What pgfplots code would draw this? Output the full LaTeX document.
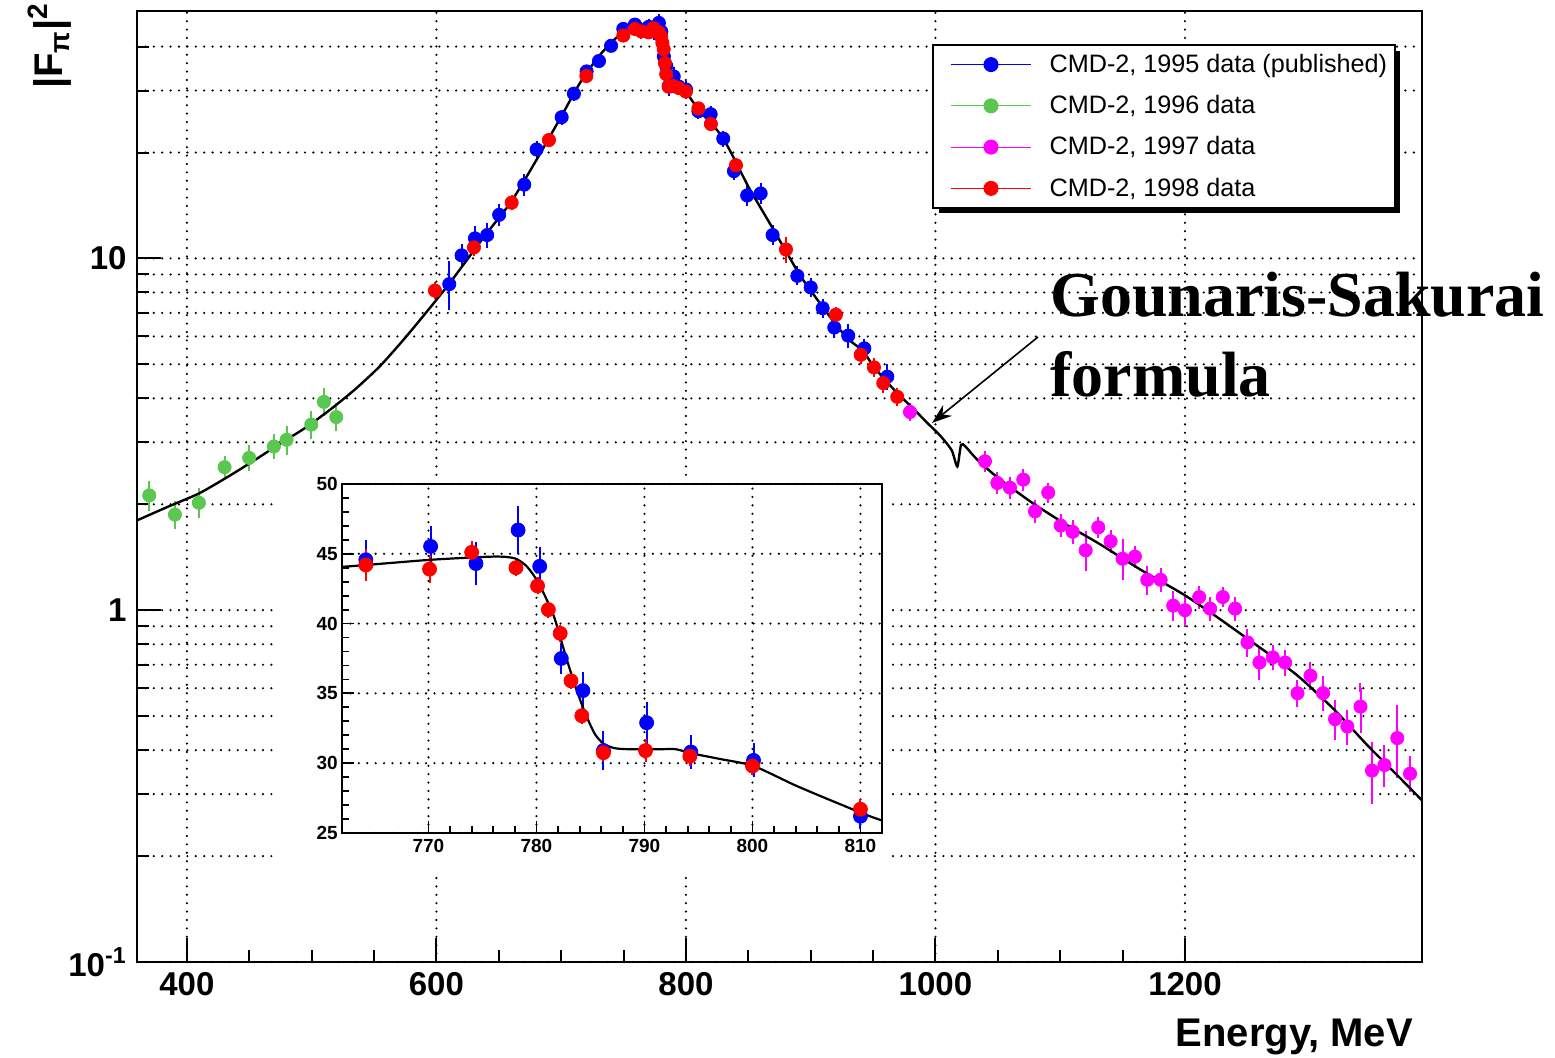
\documentclass[border=0pt]{standalone}
\usepackage{fontspec}
\setmainfont{Liberation Sans}
\newfontfamily\gsfont{Liberation Serif}
\usepackage{pgfplots}
\usepackage{pgfplotstable}
\pgfplotsset{compat=1.18}
\usetikzlibrary{arrows.meta}

\definecolor{cblue}{RGB}{0,0,255}
\definecolor{cgreen}{RGB}{90,200,80}
\definecolor{cmag}{RGB}{255,0,255}
\definecolor{cred}{RGB}{255,0,0}

\pgfplotstableread{
x y e
369.8 2.12 0.15
390.4 1.87 0.12
409.6 2.02 0.14
430.2 2.55 0.12
449.9 2.71 0.15
469.7 2.92 0.16
479.9 3.05 0.20
499.7 3.37 0.22
509.8 3.91 0.25
519.7 3.54 0.22
}\greendata

\pgfplotstableread{
x y e
610.3 8.45 1.1
620.2 10.2 0.5
630.9 11.4 0.6
640.7 11.65 0.6
650.3 13.3 0.6
670.4 16.2 0.7
680.3 20.4 0.5
700.4 25.2 0.5
710.2 29.4 0.5
720.4 34.0 0.5
730.3 36.4 0.5
740.0 40.2 0.5
749.8 44.9 0.6
759.1 46.2 0.6
764.2 44.57 1.1
770.2 45.53 1.15
774.4 44.3 1.25
778.3 46.7 1.4
780.3 44.1 1.1
782.3 37.5 0.8
784.3 35.2 1.0
786.2 30.9 1.1
790.2 32.9 1.2
794.3 30.8 0.9
800.1 30.2 0.9
810.0 26.2 0.6
819.8 25.7 0.6
829.9 21.9 0.5
838.5 17.7 0.5
849.1 15.1 0.6
859.9 15.3 0.6
869.5 11.65 0.4
889.3 8.92 0.3
900.0 8.27 0.3
909.6 7.22 0.25
918.9 6.36 0.25
930.1 6.03 0.3
943.0 5.55 0.2
961.4 4.61 0.25
}\bluedata

\pgfplotstableread{
x y e
598.8 8.1 0.2
630.1 10.75 0.3
660.3 14.4 0.3
690.2 21.7 0.4
720.2 33.0 0.4
749.8 43.0 0.4
759.1 44.9 0.4
764.2 44.2 0.8
770.1 43.9 0.7
774.0 45.1 0.5
778.1 44.0 0.3
780.1 42.7 0.3
781.1 41.0 0.3
782.2 39.3 0.3
783.2 35.9 0.3
784.2 33.4 0.3
786.2 30.75 0.3
790.1 30.9 0.5
794.2 30.5 0.4
800.0 29.8 0.3
810.0 26.7 0.4
820.0 24.1 0.3
840.1 18.4 0.3
880.2 10.6 0.6
920.2 6.92 0.15
940.1 5.32 0.15
950.7 4.90 0.15
958.2 4.42 0.15
969.4 4.04 0.12
}\reddata

\pgfplotstableread{
x y e
979.6 3.66 0.12
1039.7 2.65 0.10
1049.6 2.30 0.10
1059.7 2.23 0.10
1070.4 2.35 0.10
1079.8 1.91 0.09
1090.4 2.16 0.08
1100.4 1.74 0.08
1110.0 1.67 0.08
1120.4 1.48 0.15
1130.5 1.72 0.07
1140.4 1.57 0.07
1150.0 1.40 0.15
1159.9 1.42 0.06
1169.8 1.22 0.08
1180.5 1.22 0.06
1190.6 1.03 0.07
1200.0 1.00 0.07
1211.4 1.09 0.05
1220.2 1.01 0.05
1230.3 1.09 0.04
1240.2 1.01 0.05
1250.1 0.81 0.05
1259.7 0.71 0.06
1270.4 0.734 0.04
1280.3 0.71 0.04
1290.2 0.581 0.035
1300.6 0.651 0.04
1310.7 0.581 0.05
1320.3 0.490 0.05
1330.2 0.467 0.04
1340.7 0.532 0.07
1349.9 0.350 0.06
1359.9 0.363 0.04
1370.2 0.433 0.09
1380.4 0.343 0.03
}\magdata

\pgfplotstableread{
x y
360 1.80
385 1.97
410 2.15
435 2.42
455 2.68
475 2.98
495 3.30
515 3.72
535 4.25
555 4.95
575 5.95
595 7.25
610 8.45
624 9.85
640 11.75
660 14.5
680 19.0
700 25.3
715 31.5
730 37.5
744 42.3
752 43.5
757 43.9
762.1 44.07
770.2 44.57
776.1 44.8
778 44.67
779.1 44.1
780.2 42.9
781.6 40.55
782.7 37.7
783.6 35.5
784.5 33.6
785.4 32.1
786.2 31.4
787.2 31.08
788.5 31.0
791.4 31.0
792.9 31.0
794.4 30.7
797 30.3
800.1 29.8
804 28.4
808 27.1
812 25.9
820 24.3
830 21.9
840 18.8
850 16.0
860 13.9
870 12.1
880 10.5
891 9.0
900 8.1
910 7.25
920 6.5
930 5.9
942 5.45
950 4.95
960 4.5
970 4.12
982 3.75
993 3.42
1003.6 3.14
1013 2.85
1017.5 2.56
1020.5 2.95
1024 2.92
1033 2.69
1050 2.38
1078.4 2.01
1105 1.75
1131.9 1.54
1165 1.30
1198.6 1.11
1225 0.96
1252.1 0.82
1272 0.73
1292.2 0.643
1320 0.52
1345.7 0.415
1370 0.34
1390 0.288
}\curvedata

\pgfplotsset{
  dat/.style 2 args={only marks, mark=*, mark size=#2, color=#1, forget plot,
    error bars/.cd, y dir=both, y explicit,
    error bar style={line width=1pt,#1},
    error mark options={line width=1pt, mark size=2.2pt, #1}},
  dotgrid/.style={black, line width=1.2pt, dash pattern=on 0pt off 4.2pt, line cap=round},
}

\begin{document}
\begin{tikzpicture}
\path[use as bounding box] (-68.5pt,-48pt) rectangle (709pt,481pt);
% legend shadow
\fill[black] (401pt,374.5pt) rectangle (631.5pt,455.5pt);
\begin{axis}[
  at={(0pt,0pt)}, anchor=south west,
  scale only axis, width=642.5pt, height=475.5pt,
  xmin=360, xmax=1390, ymode=log, ymin=0.1, ymax=50.5,
  xtick={400,600,800,1000,1200}, xticklabels={400,600,800,1000,1200},
  minor x tick num=3,
  ytick={0.1,1,10}, yticklabels={10\textsuperscript{-1},1,10},
  minor ytick={0.2,0.3,0.4,0.5,0.6,0.7,0.8,0.9,2,3,4,5,6,7,8,9,20,30,40},
  xmajorgrids, ymajorgrids, yminorgrids,
  grid style={dotgrid}, minor grid style={dotgrid}, major grid style={dotgrid},
  tick pos=left, tick align=inside,
  major tick length=12pt, minor tick length=6pt,
  tick style={black, line width=1pt},
  axis line style={line width=1pt},
  tick label style={font=\bfseries\fontsize{16.5}{16.5}\selectfont},
  xticklabel style={anchor=north, inner sep=0pt, yshift=-5pt},
  yticklabel style={anchor=east, inner sep=0pt, xshift=-5pt},
  legend image code/.code={\path (-4.5pt,0pt); \draw[#1, line width=0.6pt] (0pt,0pt) -- (40pt,0pt); \fill[#1] (20pt,0pt) circle (3.25pt);},
  legend cell align=left,
  legend style={at={(0.6187,0.9653)}, anchor=north west, draw=black, line width=1pt, fill=white,
    inner xsep=4pt, inner ysep=2.5pt, row sep=6pt,
    nodes={inner xsep=0pt},
    font=\fontsize{12.6}{15}\selectfont,
    /tikz/every odd column/.append style={column sep=9pt}},
]
\addplot[dat={cgreen}{3.3pt}] table[x=x,y=y,y error=e] {\greendata};
\addplot[dat={cmag}{3.3pt}] table[x=x,y=y,y error=e] {\magdata};
\addplot[dat={cblue}{3.3pt}] table[x=x,y=y,y error=e] {\bluedata};
\addplot[dat={cred}{3.3pt}] table[x=x,y=y,y error=e] {\reddata};
\addplot[black, line width=1.2pt, smooth, tension=0.4, forget plot] table[x=x,y=y] {\curvedata};
\addlegendimage{cblue}
\addlegendentry{CMD-2, 1995 data (published)}
\addlegendimage{cgreen}
\addlegendentry{CMD-2, 1996 data}
\addlegendimage{cmag}
\addlegendentry{CMD-2, 1997 data}
\addlegendimage{cred}
\addlegendentry{CMD-2, 1998 data}
\end{axis}

\fill[white] (70pt,43.5pt) rectangle (377.5pt,242pt);

\begin{axis}[
  at={(102.5pt,64.5pt)}, anchor=south west,
  scale only axis, width=270pt, height=174.5pt,
  xmin=762, xmax=812, ymin=25, ymax=50,
  xtick={770,780,790,800,810}, xticklabels={770,780,790,800,810},
  ytick={25,30,35,40,45,50}, yticklabels={25,30,35,40,45,50},
  minor x tick num=4, minor y tick num=4,
  xmajorgrids, ymajorgrids,
  grid style={dotgrid}, major grid style={dotgrid},
  tick pos=left, tick align=inside,
  major tick length=6pt, minor tick length=3.5pt,
  tick style={black, line width=0.9pt},
  axis line style={line width=1pt},
  tick label style={font=\bfseries\fontsize{9.5}{9.5}\selectfont},
  xticklabel style={anchor=north, inner sep=0pt, yshift=-3pt},
  yticklabel style={anchor=east, inner sep=0pt, xshift=-2pt},
]
\addplot[dat={cblue}{3.5pt}] table[x=x,y=y,y error=e] {\bluedata};
\addplot[dat={cred}{3.5pt}] table[x=x,y=y,y error=e] {\reddata};
\addplot[black, line width=1.1pt, smooth, tension=0.4] table[x=x,y=y] {\curvedata};
\end{axis}

\node[rotate=90, anchor=base, font=\bfseries\fontsize{20}{20}\selectfont] at (-37pt,458pt) {|F\textsubscript{π}|\textsuperscript{2}};
\node[anchor=base east, font=\bfseries\fontsize{20}{20}\selectfont] at (641.5pt,-42.5pt) {Energy, MeV};
\node[anchor=base west, inner sep=0pt, font=\gsfont\bfseries\fontsize{32}{32}\selectfont] at (456.5pt,322.5pt) {Gounaris-Sakurai};
\node[anchor=base west, inner sep=0pt, font=\gsfont\bfseries\fontsize{32}{32}\selectfont] at (456.5pt,282.5pt) {formula};
\draw[-{Stealth[length=10pt, width=7pt]}, line width=0.8pt] (450.5pt,312.5pt) -- (397.5pt,269.5pt);
\end{tikzpicture}
\end{document}
